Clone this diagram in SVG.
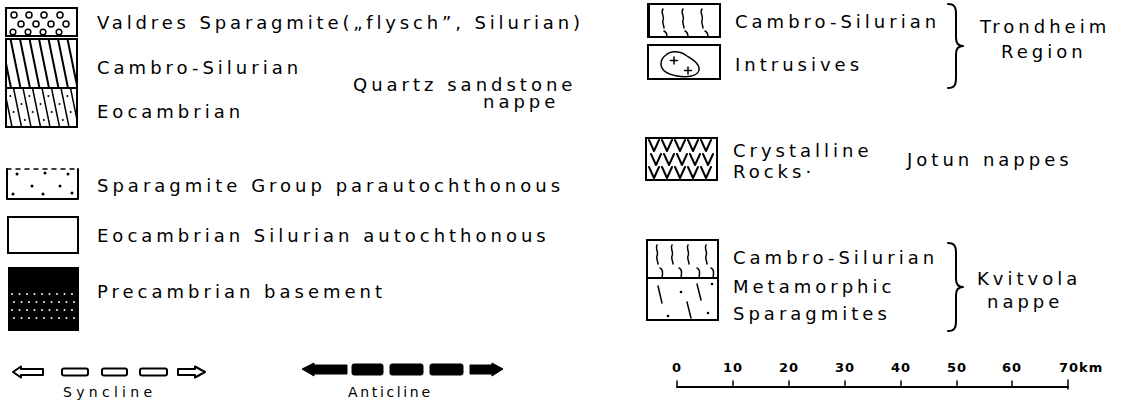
<svg xmlns="http://www.w3.org/2000/svg" width="1145" height="403" viewBox="0 0 1145 403">
<style>
.t{font-family:"DejaVu Sans","Liberation Sans",sans-serif;font-size:18px;letter-spacing:4px;fill:#000}
.s{font-family:"DejaVu Sans","Liberation Sans",sans-serif;font-size:14px;fill:#000}
.n{font-family:"DejaVu Sans","Liberation Sans",sans-serif;font-size:13px;font-weight:bold;letter-spacing:1px;fill:#000}
.box{fill:#fff;stroke:#000;stroke-width:2}
.ln{fill:none;stroke:#000;stroke-width:2;stroke-linecap:round;stroke-linejoin:round}
.thin{fill:none;stroke:#000;stroke-width:1.5;stroke-linecap:round}
.dot{fill:#000}
.wdot{fill:#fff}
.ring{fill:none;stroke:#000;stroke-width:1.5}
.sync{fill:#fff;stroke:#000;stroke-width:2;stroke-linejoin:round}
.anti{fill:#000;stroke:#000;stroke-width:1;stroke-linejoin:round}
</style>
<defs>
<clipPath id="cpA"><rect x="6" y="39" width="71" height="49"/></clipPath>
<clipPath id="cpB"><rect x="6" y="88" width="71" height="39"/></clipPath>
<path id="vee" d="M0,0 L5,11 L10,0"/>
</defs>
<rect width="1145" height="403" fill="#fff"/>

<g id="valdres">
<rect class="box" x="6" y="8" width="71" height="28"/>
<g class="ring">
<circle cx="14" cy="15" r="3"/><circle cx="29" cy="15" r="3"/><circle cx="44" cy="15" r="3"/><circle cx="60" cy="15" r="3"/>
<circle cx="21" cy="24" r="3"/><circle cx="36" cy="24" r="3"/><circle cx="51" cy="24" r="3"/><circle cx="66" cy="24" r="3"/>
<circle cx="13" cy="32" r="2.8"/><circle cx="28" cy="32" r="2.8"/><circle cx="43" cy="32" r="2.8"/><circle cx="59" cy="32" r="2.8"/>
</g>
<text class="t" x="97" y="29" textLength="487" lengthAdjust="spacing">Valdres Sparagmite(„flysch”, Silurian)</text>
</g>

<g id="quartz-sandstone">
<rect class="box" x="6" y="39" width="71" height="88"/>
<g clip-path="url(#cpA)" class="ln">
<line x1="1" y1="39" x2="11" y2="88"/><line x1="10.5" y1="39" x2="20.5" y2="88"/><line x1="20" y1="39" x2="30" y2="88"/><line x1="29.5" y1="39" x2="39.5" y2="88"/><line x1="39" y1="39" x2="49" y2="88"/><line x1="48.5" y1="39" x2="58.5" y2="88"/><line x1="58" y1="39" x2="68" y2="88"/><line x1="67.5" y1="39" x2="77.5" y2="88"/><line x1="77" y1="39" x2="87" y2="88"/>
</g>
<g clip-path="url(#cpB)" class="thin">
<line x1="4" y1="88" x2="12" y2="127"/><line x1="13.5" y1="88" x2="21.5" y2="127"/><line x1="23" y1="88" x2="31" y2="127"/><line x1="32.5" y1="88" x2="40.5" y2="127"/><line x1="42" y1="88" x2="50" y2="127"/><line x1="51.5" y1="88" x2="59.5" y2="127"/><line x1="61" y1="88" x2="69" y2="127"/><line x1="70.5" y1="88" x2="78.5" y2="127"/>
</g>
<g class="dot">
<circle cx="10.3" cy="96" r="1"/><circle cx="13.6" cy="112" r="1"/><circle cx="21.5" cy="104" r="1"/><circle cx="24.8" cy="120" r="1"/><circle cx="29.4" cy="96" r="1"/><circle cx="32.7" cy="112" r="1"/><circle cx="40.5" cy="104" r="1"/><circle cx="43.8" cy="120" r="1"/><circle cx="48.4" cy="96" r="1"/><circle cx="51.7" cy="112" r="1"/><circle cx="59.5" cy="104" r="1"/><circle cx="62.8" cy="120" r="1"/><circle cx="67.4" cy="96" r="1"/><circle cx="70.7" cy="112" r="1"/>
</g>
<line class="ln" x1="6" y1="88" x2="77" y2="88"/>
<text class="t" x="97" y="74">Cambro-Silurian</text>
<text class="t" x="97" y="118">Eocambrian</text>
<text class="t" x="353" y="91">Quartz sandstone</text>
<text class="t" x="483" y="108">nappe</text>
</g>

<g id="sparagmite-group">
<path class="ln" d="M7,169 V199 H78 V169"/>
<path class="thin" d="M7,169 H78" stroke-dasharray="4 5"/>
<g class="dot">
<circle cx="17" cy="174" r="1.5"/><circle cx="45" cy="173" r="1.5"/><circle cx="68" cy="174" r="1.5"/><circle cx="32" cy="186" r="1.5"/><circle cx="60" cy="186" r="1.5"/><circle cx="13" cy="194" r="1.5"/><circle cx="43" cy="194" r="1.5"/><circle cx="72" cy="193" r="1.5"/>
</g>
<text class="t" x="97" y="192">Sparagmite Group parautochthonous</text>
</g>

<g id="eocambrian-silurian">
<rect class="box" x="8" y="217" width="70" height="36"/>
<text class="t" x="97" y="242">Eocambrian Silurian autochthonous</text>
</g>

<g id="precambrian">
<rect x="8" y="267" width="71" height="64" fill="#000"/>
<g class="wdot">
<circle cx="12" cy="294" r="1"/><circle cx="19.5" cy="294" r="1"/><circle cx="27" cy="294" r="1"/><circle cx="34.5" cy="294" r="1"/><circle cx="42" cy="294" r="1"/><circle cx="49.5" cy="294" r="1"/><circle cx="57" cy="294" r="1"/><circle cx="64.5" cy="294" r="1"/><circle cx="72" cy="294" r="1"/>
<circle cx="14" cy="302" r="1"/><circle cx="21.5" cy="302" r="1"/><circle cx="29" cy="302" r="1"/><circle cx="36.5" cy="302" r="1"/><circle cx="44" cy="302" r="1"/><circle cx="51.5" cy="302" r="1"/><circle cx="59" cy="302" r="1"/><circle cx="66.5" cy="302" r="1"/><circle cx="74" cy="302" r="1"/>
<circle cx="12" cy="310" r="1"/><circle cx="19.5" cy="310" r="1"/><circle cx="27" cy="310" r="1"/><circle cx="34.5" cy="310" r="1"/><circle cx="42" cy="310" r="1"/><circle cx="49.5" cy="310" r="1"/><circle cx="57" cy="310" r="1"/><circle cx="64.5" cy="310" r="1"/><circle cx="72" cy="310" r="1"/>
<circle cx="14" cy="318" r="1"/><circle cx="21.5" cy="318" r="1"/><circle cx="29" cy="318" r="1"/><circle cx="36.5" cy="318" r="1"/><circle cx="44" cy="318" r="1"/><circle cx="51.5" cy="318" r="1"/><circle cx="59" cy="318" r="1"/><circle cx="66.5" cy="318" r="1"/><circle cx="74" cy="318" r="1"/>
</g>
<text class="t" x="97" y="298">Precambrian basement</text>
</g>

<g id="syncline">
<path class="sync" d="M13,372 L21,366.5 V369 H43 V375 H21 V377.5 Z"/>
<rect class="sync" x="62" y="368.5" width="26" height="7" rx="2"/>
<rect class="sync" x="102" y="368.5" width="25" height="7" rx="2"/>
<rect class="sync" x="140" y="368.5" width="27" height="7" rx="2"/>
<path class="sync" d="M178,369 H195 V366.5 L205,372 L195,377.5 V375 H178 Z"/>
<text class="s" x="63" y="397" textLength="89" lengthAdjust="spacing">Syncline</text>
</g>

<g id="anticline">
<path class="anti" d="M302,369 L314,363 V365 H347 V374 H314 V376 Z"/>
<rect class="anti" x="352" y="364" width="31" height="11" rx="2"/>
<rect class="anti" x="390" y="364" width="33" height="11" rx="2"/>
<rect class="anti" x="430" y="364" width="33" height="11" rx="2"/>
<path class="anti" d="M470,365 H492 V363 L503,369 L492,376 V374 H470 Z"/>
<text class="s" x="348" y="397" textLength="82" lengthAdjust="spacing">Anticline</text>
</g>

<g id="trondheim-cambro-silurian">
<rect class="box" x="648" y="4" width="72" height="33"/>
<line x1="648.5" y1="4" x2="648.5" y2="37" stroke="#000" stroke-width="3"/>
<path class="thin" d="M663,9 c-3,4 2,7 0,11 c-1,3 1,5 1,8 M683,9 c-3,4 2,7 0,11 c-1,3 1,5 1,8 M702,9 c-3,4 2,7 0,11 c-1,3 1,5 1,8"/>
<path class="thin" d="M667,37 c0,-3 -1,-5 -3,-6 M688,37 c0,-3 -1,-5 -3,-6 M708,37 c0,-3 -1,-5 -3,-6"/>
<text class="t" x="735" y="28">Cambro-Silurian</text>
</g>

<g id="trondheim-intrusives">
<rect class="box" x="648" y="45" width="72" height="34"/>
<path class="thin" d="M666,55 c5,-5 15,-4 21,1 c6,4 13,8 12,14 c-1,6 -12,8 -22,6 c-10,-2 -16,-6 -16,-12 c0,-4 2,-7 5,-9 z"/>
<path class="thin" d="M674,57 v7 M670.5,60.5 h7 M688,67 v7 M684.5,70.5 h7"/>
<text class="t" x="735" y="71">Intrusives</text>
</g>

<g id="jotun-crystalline">
<rect class="box" x="646" y="138" width="71" height="42"/>
<g class="ln" stroke-width="2.5">
<use href="#vee" x="649" y="140"/><use href="#vee" x="662" y="140"/><use href="#vee" x="675" y="140"/><use href="#vee" x="688" y="140"/><use href="#vee" x="701" y="140"/>
<use href="#vee" x="651" y="154"/><use href="#vee" x="664" y="154"/><use href="#vee" x="677" y="154"/><use href="#vee" x="690" y="154"/><use href="#vee" x="703" y="154"/>
<use href="#vee" x="649" y="167"/><use href="#vee" x="662" y="167"/><use href="#vee" x="675" y="167"/><use href="#vee" x="688" y="167"/><use href="#vee" x="701" y="167"/>
</g>
<text class="t" x="733" y="157">Crystalline</text>
<text class="t" x="733" y="178">Rocks·</text>
<text class="t" x="907" y="166">Jotun nappes</text>
</g>

<g id="kvitvola">
<rect class="box" x="647" y="240" width="71" height="80"/>
<line class="ln" x1="647" y1="278" x2="718" y2="278"/>
<path class="thin" d="M657,245 c-2,4 2,7 0,11 c-1,3 1,5 1,8 M672,245 c-2,4 2,7 0,11 c-1,3 1,5 1,8 M688,245 c-2,4 2,7 0,11 c-1,3 1,5 1,8 M706,245 c-2,4 2,7 0,11 c-1,3 1,5 1,8"/>
<path class="thin" d="M660,268 c3,1 3,5 2,10 M679,268 c3,1 3,5 2,10 M697,268 c3,1 3,5 2,10 M711,268 c3,1 3,5 2,10"/>
<path class="thin" d="M658,286 L662,303 M697,284 L701,300 M687,302 L691,318"/>
<g class="dot">
<circle cx="681" cy="292" r="1.3"/><circle cx="712" cy="284" r="1.3"/><circle cx="668" cy="316" r="1.3"/><circle cx="708" cy="313" r="1.3"/>
</g>
<text class="t" x="733" y="264">Cambro-Silurian</text>
<text class="t" x="733" y="293">Metamorphic</text>
<text class="t" x="733" y="320">Sparagmites</text>
</g>

<g id="region-labels">
<text class="t" x="980" y="33">Trondheim</text>
<text class="t" x="1001" y="58">Region</text>
<text class="t" x="977" y="285">Kvitvola</text>
<text class="t" x="987" y="308">nappe</text>
</g>

<g id="connectors">
<path class="ln" d="M948,4 C955,4 956,8 956,14 L956,38 C956,43 958,46 963,46 C958,46 956,49 956,54 L956,78 C956,84 955,88 948,88"/>
<path class="ln" d="M948,243 C955,243 956,247 956,253 L956,279 C956,284 958,287 963,287 C958,287 956,290 956,295 L956,321 C956,327 955,331 948,331"/>
</g>

<g id="scale-bar">
<line class="ln" stroke-width="2.5" x1="677" y1="387" x2="1068" y2="387"/>
<path class="thin" d="M677,381 V387 M733,381 V387 M789,381 V387 M845,381 V387 M901,381 V387 M957,381 V387 M1012,381 V387 M1068,380 V389"/>
<g class="n" text-anchor="middle">
<text x="677" y="372">0</text>
<text x="733" y="372">10</text>
<text x="789" y="372">20</text>
<text x="845" y="372">30</text>
<text x="901" y="372">40</text>
<text x="957" y="372">50</text>
<text x="1012" y="372">60</text>
</g>
<text class="n" x="1059" y="372">70km</text>
</g>
</svg>
